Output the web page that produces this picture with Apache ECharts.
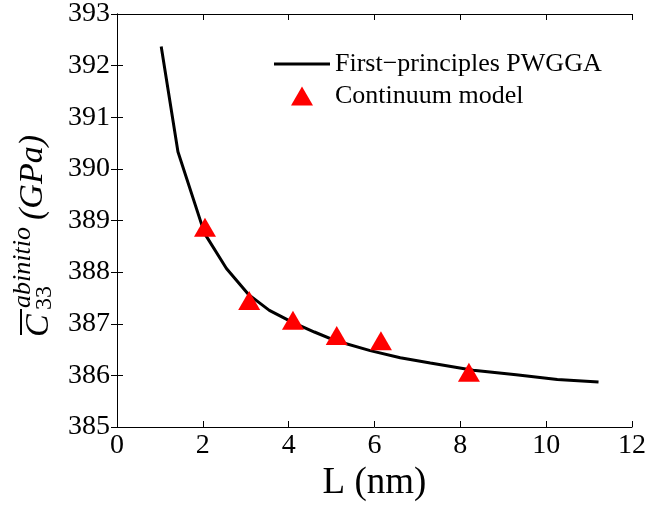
<!DOCTYPE html>
<html>
<head>
<meta charset="utf-8">
<script src="https://cdn.jsdelivr.net/npm/echarts@6/dist/echarts.min.js"></script>
<style>html,body{margin:0;padding:0;background:#fff}#c{width:649px;height:507px}</style>
</head>
<body>
<div id="c"></div>
<script>
// First-principles PWGGA curve
const lineL = [1.03, 1.42, 2.04, 2.55, 3.06, 3.55, 4.08, 4.6, 5.1, 5.9, 6.6, 7.3, 8.3, 9.3, 10.26, 11.22];
const lineC = [392.37, 390.33, 388.75, 388.07, 387.57, 387.26, 387.03, 386.84, 386.67, 386.48, 386.34, 386.24, 386.10, 386.01, 385.92, 385.87];
// Continuum model points
const contL = [2.05, 3.08, 4.10, 5.12, 6.15, 8.20];
const contC = [388.87, 387.45, 387.07, 386.77, 386.67, 386.06];
const xTicks = [0, 2, 4, 6, 8, 10, 12];
const yTicks = [385, 386, 387, 388, 389, 390, 391, 392, 393];

const serif = "'Liberation Serif', 'DejaVu Serif', serif";
const chart = echarts.init(document.getElementById('c'), null, {renderer: 'canvas'});

const axisCommon = {
  axisLine: {show: true, lineStyle: {color: '#000', width: 1}},
  axisTick: {show: true, inside: true, length: 6, lineStyle: {color: '#000', width: 1}},
  splitLine: {show: false}
};

chart.setOption({
  animation: false,
  backgroundColor: '#fff',
  grid: {left: 117, right: 14, top: 12, bottom: 77, containLabel: false},
  xAxis: [
    Object.assign({
      type: 'value', min: xTicks[0], max: xTicks[xTicks.length - 1], interval: 2, position: 'bottom',
      axisLabel: {color: '#000', fontFamily: serif, fontSize: 28, margin: 5},
      name: 'L (nm)', nameLocation: 'middle', nameGap: 38,
      nameTextStyle: {color: '#000', fontFamily: serif, fontSize: 37}
    }, axisCommon),
    Object.assign({
      type: 'value', min: xTicks[0], max: xTicks[xTicks.length - 1], interval: 2, position: 'top',
      axisLabel: {show: false}
    }, axisCommon)
  ],
  yAxis: [
    Object.assign({
      type: 'value', min: yTicks[0], max: yTicks[yTicks.length - 1], interval: 1, position: 'left',
      axisLabel: {color: '#000', fontFamily: serif, fontSize: 28, margin: 7}
    }, axisCommon),
    Object.assign({
      type: 'value', min: yTicks[0], max: yTicks[yTicks.length - 1], interval: 1, position: 'right',
      axisLabel: {show: false}
    }, axisCommon)
  ],
  legend: {
    orient: 'vertical', left: 274, top: 51, padding: 0, itemGap: 6, itemWidth: 56, itemHeight: 19,
    textStyle: {color: '#000', fontFamily: serif, fontSize: 26},
    data: [
      {name: 'First\u2212principles PWGGA', icon: 'path://M0,0h56v3h-56z'},
      {name: 'Continuum model', icon: 'path://M11,0L22,19L0,19Z'}
    ]
  },
  series: [
    {
      name: 'First\u2212principles PWGGA', type: 'line', symbol: 'none',
      data: lineL.map((x, i) => [x, lineC[i]]),
      lineStyle: {color: '#000', width: 3}, itemStyle: {color: '#000'}, z: 2
    },
    {
      name: 'Continuum model', type: 'scatter', symbol: 'triangle', symbolSize: [22, 19],
      data: contL.map((x, i) => [x, contC[i]]),
      itemStyle: {color: '#ff0000', opacity: 1}, z: 3
    }
  ],
  graphic: [{
    type: 'group', x: 56, y: 337, rotation: Math.PI / 2,
    children: [
      {type: 'text', x: 0, y: 0, style: {text: 'C', font: "italic 34px " + serif, fill: '#000', verticalAlign: 'bottom', align: 'left'}},
      {type: 'line', shape: {x1: 2, y1: -35, x2: 28, y2: -35}, style: {stroke: '#000', lineWidth: 2}},
      {type: 'text', x: 27, y: 1, style: {text: '33', font: "24px " + serif, fill: '#000', verticalAlign: 'bottom', align: 'left'}},
      {type: 'text', x: 29, y: -20, style: {text: 'abinitio', font: "italic 26px " + serif, fill: '#000', verticalAlign: 'bottom', align: 'left'}},
      {type: 'text', x: 117, y: -6, style: {text: '(GPa)', font: "italic 34px " + serif, fill: '#000', verticalAlign: 'bottom', align: 'left'}}
    ]
  }]
});
</script>
</body>
</html>
